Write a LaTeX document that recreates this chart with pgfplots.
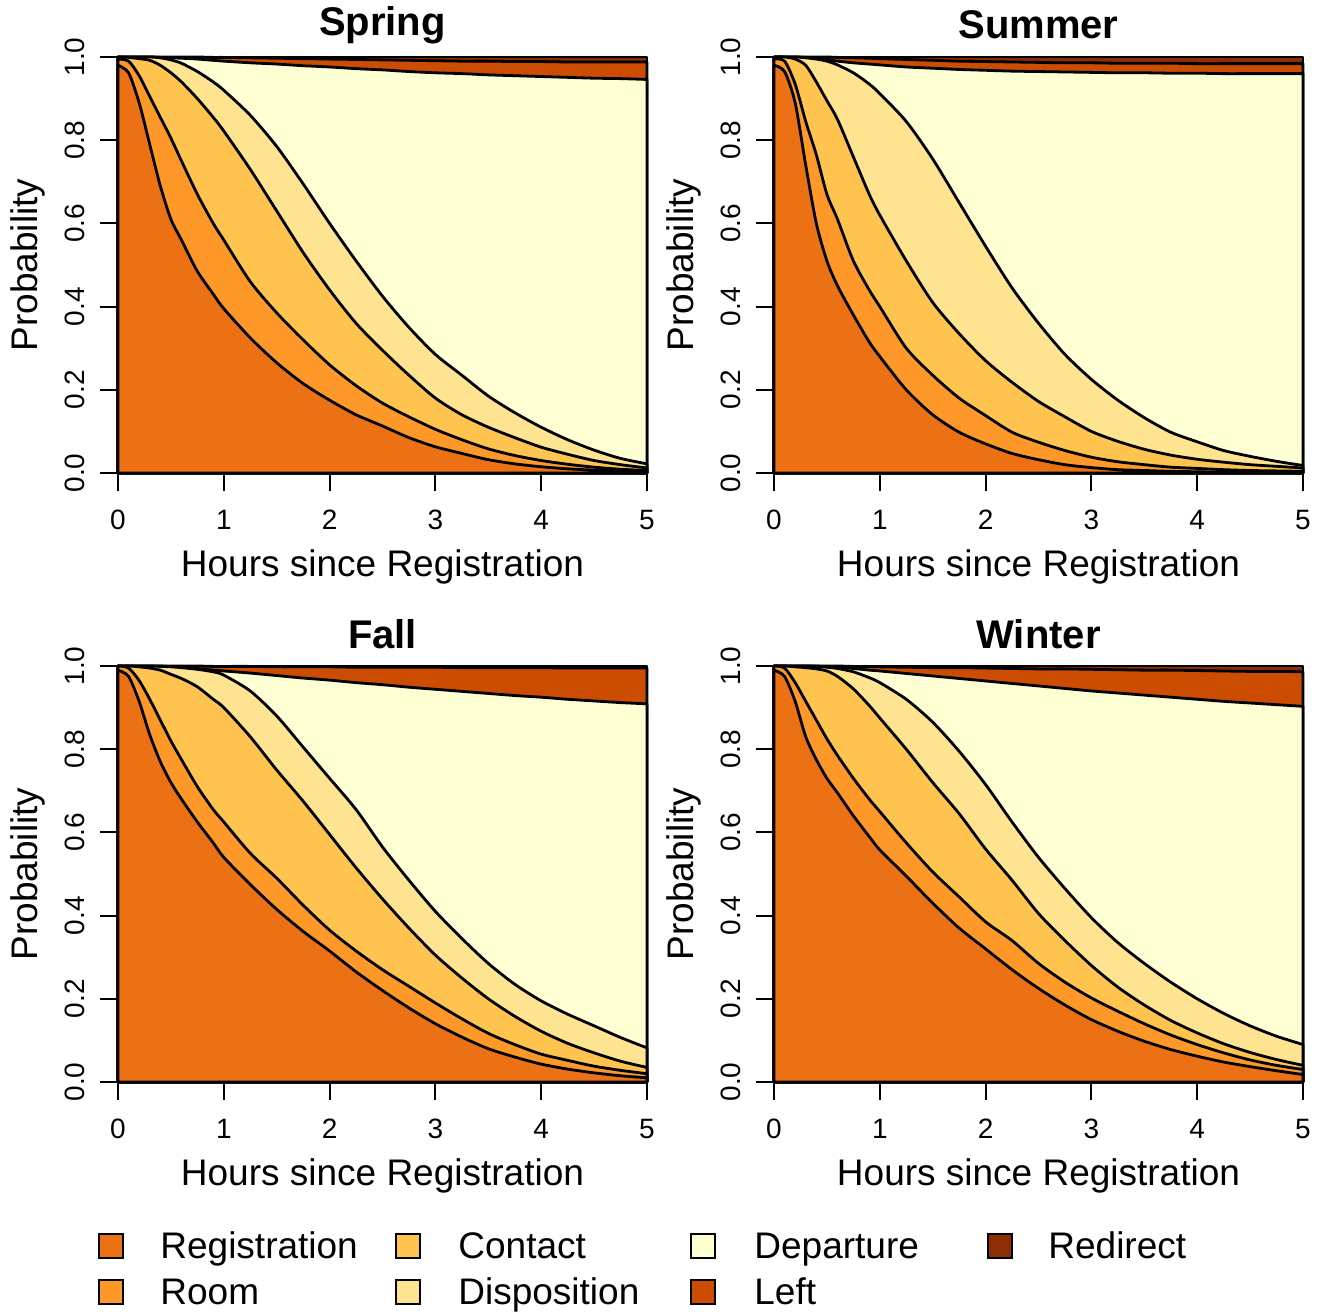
\documentclass[border=0pt]{standalone}
\usepackage{fontspec}
\setmainfont{Liberation Sans}
\usepackage{pgfplots}
\usepackage{pgfplotstable}
\pgfplotsset{compat=1.18}

\definecolor{cReg}{HTML}{EC7014}
\definecolor{cRoom}{HTML}{FE9929}
\definecolor{cCont}{HTML}{FEC44F}
\definecolor{cDisp}{HTML}{FEE391}
\definecolor{cDep}{HTML}{FFFFD4}
\definecolor{cLeft}{HTML}{CC4C02}
\definecolor{cRedir}{HTML}{8C2D04}

% cumulative state probabilities (top of each band)
\pgfplotstableread{
x c1 c2 c3 c4 c5 c6 c7
0    0.980 0.995 1.000 1.000 1.000 1.000 1
0.1  0.962 0.990 0.999 1.000 1.000 1.000 1
0.2  0.890 0.955 0.996 1.000 1.000 1.000 1
0.3  0.790 0.905 0.992 1.000 1.000 1.000 1
0.4  0.690 0.855 0.980 0.998 0.999 1.000 1
0.5  0.610 0.805 0.962 0.993 0.998 1.000 1
0.6  0.560 0.750 0.940 0.985 0.997 1.000 1
0.75 0.485 0.670 0.900 0.965 0.995 1.000 1
0.9  0.430 0.600 0.855 0.940 0.992 0.999 1
1.0  0.395 0.560 0.822 0.920 0.990 0.999 1
1.25 0.325 0.460 0.730 0.860 0.986 0.998 1
1.5  0.265 0.385 0.630 0.785 0.983 0.997 1
1.75 0.215 0.320 0.530 0.695 0.979 0.996 1
2.0  0.175 0.260 0.440 0.600 0.976 0.995 1
2.25 0.140 0.210 0.360 0.510 0.972 0.994 1
2.5  0.113 0.168 0.295 0.425 0.969 0.993 1
2.75 0.085 0.135 0.235 0.350 0.965 0.992 1
3.0  0.063 0.105 0.180 0.285 0.962 0.991 1
3.25 0.047 0.080 0.140 0.235 0.960 0.990 1
3.5  0.032 0.058 0.110 0.185 0.957 0.990 1
3.75 0.022 0.042 0.085 0.145 0.955 0.989 1
4.0  0.015 0.030 0.062 0.110 0.953 0.989 1
4.25 0.010 0.021 0.045 0.080 0.951 0.988 1
4.5  0.007 0.014 0.030 0.055 0.949 0.988 1
4.75 0.005 0.009 0.020 0.035 0.948 0.988 1
5.0  0.003 0.006 0.012 0.022 0.946 0.988 1
}\spring

\pgfplotstableread{
x c1 c2 c3 c4 c5 c6 c7
0    0.980 0.995 1.000 1.000 1.000 1.000 1
0.1  0.965 0.990 1.000 1.000 1.000 1.000 1
0.2  0.890 0.935 0.995 1.000 1.000 1.000 1
0.3  0.740 0.845 0.980 0.998 0.999 1.000 1
0.4  0.600 0.765 0.940 0.995 0.997 1.000 1
0.5  0.510 0.670 0.895 0.990 0.994 1.000 1
0.6  0.450 0.610 0.850 0.981 0.990 0.999 1
0.75 0.380 0.510 0.760 0.962 0.986 0.998 1
0.9  0.315 0.440 0.670 0.935 0.983 0.997 1
1.0  0.280 0.400 0.620 0.912 0.981 0.996 1
1.25 0.200 0.300 0.510 0.845 0.976 0.994 1
1.5  0.140 0.235 0.410 0.755 0.973 0.992 1
1.75 0.098 0.180 0.335 0.650 0.970 0.990 1
2.0  0.070 0.138 0.270 0.545 0.968 0.989 1
2.25 0.047 0.098 0.218 0.445 0.966 0.988 1
2.5  0.032 0.074 0.172 0.360 0.965 0.987 1
2.75 0.020 0.054 0.135 0.285 0.964 0.986 1
3.0  0.013 0.038 0.100 0.225 0.963 0.986 1
3.25 0.008 0.027 0.076 0.175 0.962 0.985 1
3.5  0.006 0.020 0.057 0.133 0.962 0.985 1
3.75 0.004 0.014 0.043 0.098 0.961 0.985 1
4.0  0.003 0.011 0.033 0.075 0.961 0.984 1
4.25 0.002 0.008 0.026 0.054 0.960 0.984 1
4.5  0.002 0.006 0.020 0.040 0.960 0.984 1
4.75 0.001 0.005 0.016 0.028 0.960 0.984 1
5.0  0.001 0.004 0.012 0.018 0.960 0.984 1
}\summer

\pgfplotstableread{
x c1 c2 c3 c4 c5 c6 c7
0    0.990 1.000 1.000 1.000 1.000 1.000 1
0.1  0.975 0.995 1.000 1.000 1.000 1.000 1
0.2  0.915 0.965 0.998 1.000 1.000 1.000 1
0.3  0.835 0.920 0.995 1.000 1.000 1.000 1
0.4  0.770 0.870 0.990 0.999 1.000 1.000 1
0.5  0.720 0.820 0.980 0.998 0.998 1.000 1
0.6  0.680 0.775 0.970 0.996 0.997 1.000 1
0.75 0.625 0.710 0.950 0.992 0.994 1.000 1
0.9  0.575 0.655 0.920 0.986 0.990 0.999 1
1.0  0.540 0.625 0.900 0.978 0.988 0.999 1
1.25 0.475 0.550 0.830 0.940 0.983 0.999 1
1.5  0.415 0.490 0.750 0.880 0.977 0.998 1
1.75 0.362 0.425 0.675 0.805 0.971 0.998 1
2.0  0.315 0.365 0.595 0.730 0.966 0.998 1
2.25 0.265 0.315 0.515 0.655 0.960 0.997 1
2.5  0.220 0.270 0.440 0.565 0.955 0.997 1
2.75 0.178 0.230 0.370 0.485 0.949 0.997 1
3.0  0.140 0.190 0.305 0.410 0.944 0.997 1
3.25 0.108 0.152 0.250 0.345 0.939 0.996 1
3.5  0.080 0.117 0.200 0.285 0.934 0.996 1
3.75 0.060 0.090 0.158 0.235 0.929 0.996 1
4.0  0.043 0.067 0.122 0.195 0.925 0.996 1
4.25 0.031 0.052 0.093 0.163 0.920 0.995 1
4.5  0.022 0.038 0.070 0.135 0.916 0.995 1
4.75 0.015 0.028 0.050 0.107 0.912 0.995 1
5.0  0.010 0.020 0.035 0.082 0.909 0.995 1
}\fall

\pgfplotstableread{
x c1 c2 c3 c4 c5 c6 c7
0    0.990 1.000 1.000 1.000 1.000 1.000 1
0.1  0.975 0.995 1.000 1.000 1.000 1.000 1
0.2  0.915 0.960 0.998 1.000 1.000 1.000 1
0.3  0.830 0.915 0.996 1.000 1.000 1.000 1
0.4  0.775 0.870 0.993 0.999 1.000 1.000 1
0.5  0.730 0.825 0.988 0.997 0.998 1.000 1
0.6  0.695 0.785 0.975 0.994 0.997 1.000 1
0.75 0.640 0.730 0.945 0.986 0.994 0.999 1
0.9  0.590 0.680 0.905 0.972 0.990 0.999 1
1.0  0.558 0.650 0.875 0.960 0.988 0.998 1
1.25 0.495 0.575 0.800 0.920 0.982 0.997 1
1.5  0.430 0.505 0.720 0.865 0.976 0.996 1
1.75 0.370 0.445 0.645 0.795 0.970 0.996 1
2.0  0.320 0.385 0.560 0.715 0.964 0.995 1
2.25 0.270 0.340 0.485 0.625 0.958 0.994 1
2.5  0.225 0.285 0.405 0.540 0.952 0.993 1
2.75 0.185 0.240 0.340 0.465 0.946 0.993 1
3.0  0.150 0.202 0.280 0.395 0.940 0.992 1
3.25 0.122 0.170 0.228 0.335 0.935 0.991 1
3.5  0.098 0.140 0.185 0.285 0.930 0.990 1
3.75 0.078 0.113 0.148 0.240 0.925 0.990 1
4.0  0.062 0.090 0.118 0.200 0.920 0.989 1
4.25 0.048 0.070 0.092 0.165 0.915 0.988 1
4.5  0.037 0.053 0.071 0.135 0.911 0.987 1
4.75 0.027 0.040 0.054 0.110 0.907 0.987 1
5.0  0.018 0.030 0.040 0.090 0.903 0.986 1
}\winter

\pgfplotsset{
  panel/.style={
    anchor=south west, scale only axis,
    width=264.5pt, height=208pt,
    xmin=0, xmax=5, ymin=0, ymax=1,
    axis x line*=bottom, axis y line*=left,
    axis line style={line width=1pt},
    axis on top, clip=false,
    xtick={0,1,2,3,4,5}, xticklabels={0,1,2,3,4,5},
    ytick={0,0.2,0.4,0.6,0.8,1}, yticklabels={0.0,0.2,0.4,0.6,0.8,1.0},
    tick align=outside, major tick length=9pt,
    tick style={black, line width=1pt},
    tick label style={font=\fontsize{14}{16}\selectfont},
    y tick label style={rotate=90, anchor=south},
    yticklabel shift=4pt, xticklabel shift=6pt,
    label style={font=\fontsize{18.5}{22}\selectfont},
    xlabel={Hours since Registration}, ylabel={Probability},
    x label style={at={(axis description cs:0.5,-0.226)}, anchor=center},
    y label style={at={(axis description cs:-0.170,0.5)}, anchor=center},
    every axis title shift=0pt,
    title style={at={(axis description cs:0.5,1.077)}, anchor=center,
      font=\bfseries\fontsize{20}{24}\selectfont},
    every axis plot/.append style={draw=black, line width=1.4pt, line join=round,
      smooth, tension=0.45},
  },
}

\newcommand{\bands}[1]{%
  \addplot[fill=cRedir] table[x=x, y=c7] {#1} \closedcycle;
  \addplot[fill=cLeft] table[x=x, y=c6] {#1} \closedcycle;
  \addplot[fill=cDep] table[x=x, y=c5] {#1} \closedcycle;
  \addplot[fill=cDisp] table[x=x, y=c4] {#1} \closedcycle;
  \addplot[fill=cCont] table[x=x, y=c3] {#1} \closedcycle;
  \addplot[fill=cRoom] table[x=x, y=c2] {#1} \closedcycle;
  \addplot[fill=cReg] table[x=x, y=c1] {#1} \closedcycle;
}

\begin{document}
\begin{tikzpicture}
\useasboundingbox (0,0) rectangle (661.5pt,656pt);

\begin{axis}[panel, at={(59pt,419.5pt)}, title={Spring}]
\bands{\spring}
\end{axis}

\begin{axis}[panel, at={(387pt,419.5pt)}, title={Summer}]
\bands{\summer}
\end{axis}

\begin{axis}[panel, at={(59pt,115pt)}, title={Fall}]
\bands{\fall}
\end{axis}

\begin{axis}[panel, at={(387pt,115pt)}, title={Winter}]
\bands{\winter}
\end{axis}

% legend
\begin{scope}[every node/.style={anchor=base west, inner sep=0pt, font=\fontsize{18.5}{22}\selectfont},
  box/.style={draw=black, line width=1.2pt}]
\draw[box, fill=cReg]   (49.5pt,27pt) rectangle ++(12pt,12pt);
\node at (80pt,26.5pt) {Registration};
\draw[box, fill=cRoom]  (49.5pt,4pt) rectangle ++(12pt,12pt);
\node at (80pt,3.5pt) {Room};
\draw[box, fill=cCont]  (198pt,27pt) rectangle ++(12pt,12pt);
\node at (229pt,26.5pt) {Contact};
\draw[box, fill=cDisp]  (198pt,4pt) rectangle ++(12pt,12pt);
\node at (229pt,3.5pt) {Disposition};
\draw[box, fill=cDep]   (345.5pt,27pt) rectangle ++(12pt,12pt);
\node at (377pt,26.5pt) {Departure};
\draw[box, fill=cLeft]  (345.5pt,4pt) rectangle ++(12pt,12pt);
\node at (377pt,3.5pt) {Left};
\draw[box, fill=cRedir] (494pt,27pt) rectangle ++(12pt,12pt);
\node at (524pt,26.5pt) {Redirect};
\end{scope}
\end{tikzpicture}
\end{document}
